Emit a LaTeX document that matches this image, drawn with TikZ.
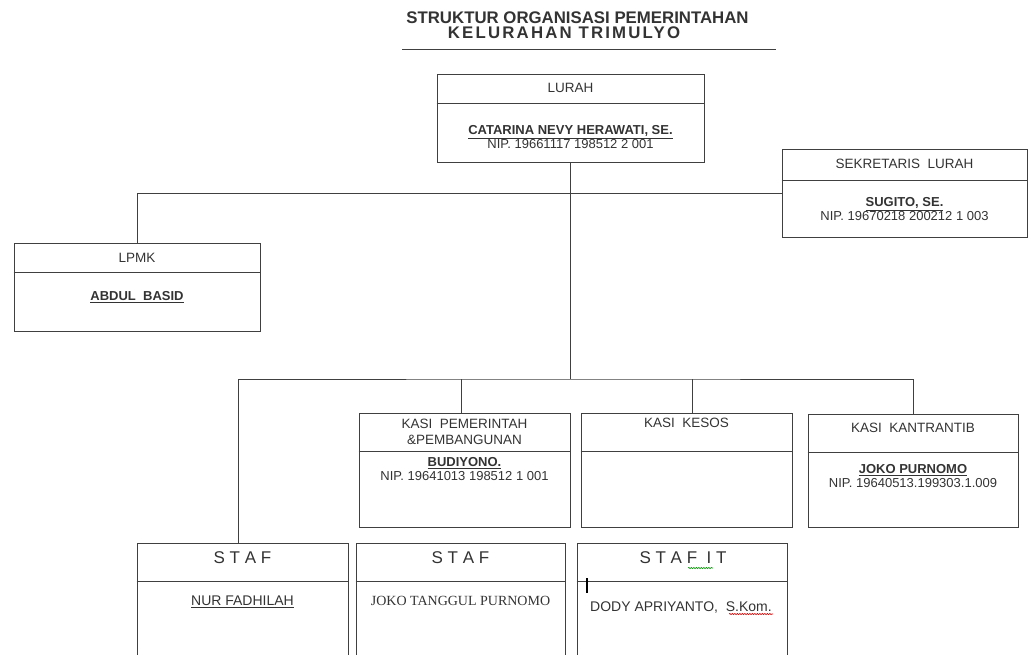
\documentclass[tikz,border=0pt]{standalone}
\usepackage{fontspec}
\setmainfont{Liberation Sans}
\newfontfamily\hurufserif{Liberation Serif}
\usetikzlibrary{positioning, decorations.pathmorphing}

\definecolor{garisabu}{gray}{0.25}
\definecolor{teksabu}{gray}{0.2}

\tikzset{
    garis/.style={draw=garisabu, line width=1pt},
    kotak/.style={garis, rectangle, inner sep=0pt},
    judul/.style={text=teksabu, font=\bfseries\fontsize{16.5}{18}\selectfont, inner sep=0pt},
    kepala/.style={text=teksabu, font=\fontsize{13.5}{16}\selectfont, align=center, inner sep=0pt},
    isi/.style={text=teksabu, font=\fontsize{13}{14}\selectfont, align=center, inner sep=0pt},
    staf/.style={text=teksabu, font=\fontsize{17}{18}\selectfont, inner sep=0pt},
    koreksi/.style={line width=0.6pt, decorate, decoration={snake, amplitude=0.6pt, segment length=2.5pt}},
}

\begin{document}
\begin{tikzpicture}[x=1pt, y=-1pt]

    \useasboundingbox (0,0) rectangle (1030,654);
    \clip (0,0) rectangle (1030,654);

    % judul
    \node[judul, font=\bfseries\fontsize{16.8}{18}\selectfont] (judul1) at (577.5,17.5) {STRUKTUR ORGANISASI PEMERINTAHAN};
    \node[judul, font=\bfseries\fontsize{16.8}{18}\selectfont\addfontfeatures{LetterSpace=13}] (judul2) at (564,33) {KELURAHAN TRIMULYO};
    \draw[garis] (402,49) -- (776,49);

    % kotak-kotak jabatan
    \node[kotak, minimum width=267pt, minimum height=88pt] (lurah) at (570.5,118) {};
    \node[kotak, minimum width=245pt, minimum height=88pt] (sekretaris) at (904.5,193) {};
    \node[kotak, minimum width=246pt, minimum height=88pt] (lpmk) at (137,287) {};
    \node[kotak, minimum width=211pt, minimum height=114pt] (kasipem) at (464.5,470) {};
    \node[kotak, minimum width=211pt, minimum height=114pt] (kasikesos) at (686.5,470) {};
    \node[kotak, minimum width=210pt, minimum height=113pt] (kantrantib) at (913,470.5) {};
    \node[kotak, minimum width=211pt, minimum height=117pt] (staf1) at (242.5,601.5) {};
    \node[kotak, minimum width=209pt, minimum height=117pt] (staf2) at (460.5,601.5) {};
    \node[kotak, minimum width=210pt, minimum height=117pt] (stafit) at (682,601.5) {};

    % garis pemisah
    \draw[garis] (lurah.west |- 0,103) -- (lurah.east |- 0,103);
    \draw[garis] (sekretaris.west |- 0,180) -- (sekretaris.east |- 0,180);
    \draw[garis] (lpmk.west |- 0,272) -- (lpmk.east |- 0,272);
    \draw[garis] (kasipem.west |- 0,451) -- (kasipem.east |- 0,451);
    \draw[garis] (kasikesos.west |- 0,451) -- (kasikesos.east |- 0,451);
    \draw[garis] (kantrantib.west |- 0,452) -- (kantrantib.east |- 0,452);
    \draw[garis] (staf1.west |- 0,581) -- (staf1.east |- 0,581);
    \draw[garis] (staf2.west |- 0,581) -- (staf2.east |- 0,581);
    \draw[garis] (stafit.west |- 0,581) -- (stafit.east |- 0,581);

    % isi kotak
    \node[kepala] (tlurah) at (570.5,88) {LURAH};
    \node[isi] (nlurah) at (570.5,137) {\textbf{\underline{CATARINA NEVY HERAWATI, SE.}}\\NIP. 19661117 198512 2 001};
    \node[kepala] (tsekretaris) at (904.5,164) {SEKRETARIS\ \ LURAH};
    \node[isi] (nsekretaris) at (904.5,209.5) {\textbf{\underline{SUGITO, SE.}}\\NIP. 19670218 200212 1 003};
    \node[kepala] (tlpmk) at (137,258) {LPMK};
    \node[isi] (nlpmk) at (137,297) {\textbf{\underline{ABDUL\ \ BASID}}};
    \node[kepala] (tkasipem) at (464.5,431.5) {KASI\ \ PEMERINTAH\\\&PEMBANGUNAN};
    \node[isi] (nkasipem) at (464.5,469) {\textbf{\underline{BUDIYONO.}}\\NIP. 19641013 198512 1 001};
    \node[kepala] (tkasikesos) at (686.5,423) {KASI\ \ KESOS};
    \node[kepala] (tkantrantib) at (913,428) {KASI\ \ KANTRANTIB};
    \node[isi] (nkantrantib) at (913,476.5) {\textbf{\underline{JOKO PURNOMO}}\\NIP. 19640513.199303.1.009};
    \node[staf] (tstaf1) at (242.5,558) {S T A F};
    \node[isi, font=\fontsize{14}{16}\selectfont] (nstaf1) at (242.5,602) {\underline{NUR FADHILAH}};
    \node[staf] (tstaf2) at (460.5,558) {S T A F};
    \node[isi, font=\hurufserif\fontsize{14}{16}\selectfont] (nstaf2) at (460.5,601) {JOKO TANGGUL PURNOMO};
    \node[staf] (tstafit) at (683,558) {S T A F\ \ I T};
    \node[isi, font=\fontsize{14}{16}\selectfont, anchor=west] (nstafit) at (590,607) {DODY APRIYANTO,\ \ S.Kom.};

    % tanda koreksi ejaan dan kursor
    \draw[green!55!black, koreksi] (688,568) -- (713,568);
    \draw[red!80!black, koreksi] (729,614) -- (773,614);
    \draw[black, line width=1.3pt] (587,578) -- (587,593);

    % garis penghubung
    \coordinate (busbawah) at (570.5,379);
    \draw[garis] (lpmk.north) |- (sekretaris.west);
    \draw[garis] (lurah.south) -- (busbawah);
    \draw[garis] ([xshift=-4pt]staf1.north) |- (busbawah) -| (kantrantib.north);
    \draw[garis] ([xshift=-3pt]kasipem.north) -- ([xshift=-3pt]kasipem.north |- busbawah);
    \draw[garis] ([xshift=6pt]kasikesos.north) -- ([xshift=6pt]kasikesos.north |- busbawah);

\end{tikzpicture}
\end{document}
